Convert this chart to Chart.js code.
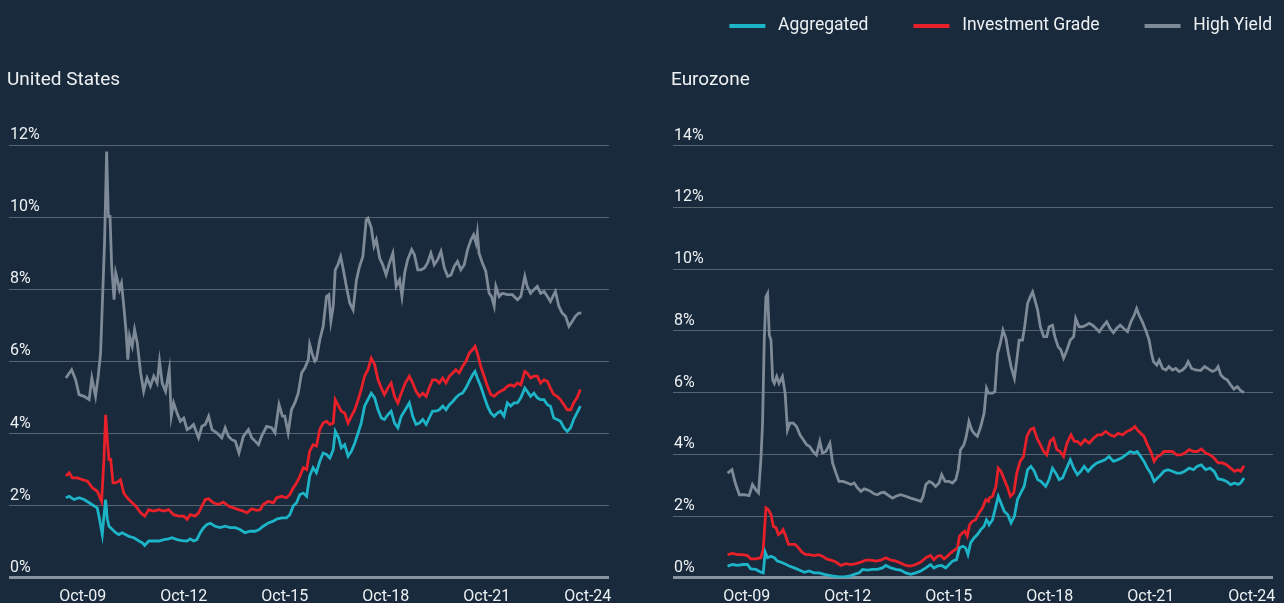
<!DOCTYPE html>
<html><head><meta charset="utf-8">
<script src="https://cdn.jsdelivr.net/npm/chart.js@4.4.1/dist/chart.umd.min.js"></script>
<style>
html,body{margin:0;padding:0;background:#182a3b;width:1284px;height:603px;overflow:hidden;}
canvas{position:absolute;top:0;}
#us{left:0;}
#ez{left:600px;}
</style></head><body>
<canvas id="us" width="640" height="603" style="width:640px;height:603px"></canvas>
<canvas id="ez" width="684" height="603" style="width:684px;height:603px"></canvas>
<script>
// ---------- tick labels ----------
const tickYears = [2009.75, 2012.75, 2015.75, 2018.75, 2021.75, 2024.75];
const tickLabels = ['Oct-09', 'Oct-12', 'Oct-15', 'Oct-18', 'Oct-21', 'Oct-24'];
const seriesNames = ['Aggregated', 'Investment Grade', 'High Yield'];

// ---------- United States ----------
const usAggDates = [2009.25,2009.35,2009.49,2009.64,2009.79,2009.94,2010.09,2010.18,2010.25,2010.33,2010.38,2010.43,2010.48,2010.53,2010.63,2010.73,2010.82,2010.92,2011.02,2011.12,2011.27,2011.42,2011.52,2011.59,2011.71,2011.86,2012.01,2012.16,2012.30,2012.40,2012.55,2012.70,2012.85,2012.94,2013.04,2013.14,2013.24,2013.34,2013.44,2013.54,2013.68,2013.83,2013.98,2014.13,2014.28,2014.42,2014.57,2014.72,2014.87,2014.99,2015.11,2015.26,2015.41,2015.51,2015.66,2015.80,2015.90,2016.00,2016.10,2016.20,2016.30,2016.40,2016.49,2016.59,
2016.69,2016.79,2016.89,2016.99,2017.09,2017.19,2017.25,2017.35,2017.43,2017.53,2017.63,2017.73,2017.83,2017.93,2018.02,2018.12,2018.22,2018.32,2018.42,2018.52,2018.62,2018.71,2018.81,2018.91,2019.01,2019.11,2019.21,2019.33,2019.45,2019.55,2019.65,2019.75,2019.85,2019.95,2020.04,2020.14,2020.24,2020.34,2020.44,2020.54,2020.64,2020.74,2020.83,2020.93,2021.03,2021.13,2021.23,2021.33,2021.40,2021.47,2021.57,2021.67,2021.77,2021.87,2021.97,2022.07,2022.16,2022.26,2022.36,2022.46,2022.56,2022.66,2022.76,2022.88,2022.95,2023.05,2023.15,2023.25,2023.35,2023.45,2023.55,2023.64,2023.74,2023.84,2023.94,2024.04,2024.14,2024.24,2024.33,2024.43,2024.53];
const usAggVals = [2.22,2.26,2.17,2.22,2.17,2.08,1.99,1.94,1.62,1.20,1.71,2.17,1.62,1.43,1.34,1.25,1.20,1.25,1.20,1.15,1.11,1.02,0.97,0.90,1.02,1.02,1.02,1.06,1.08,1.11,1.06,1.03,1.02,1.08,1.02,1.06,1.25,1.39,1.48,1.51,1.43,1.39,1.43,1.39,1.39,1.34,1.25,1.29,1.29,1.34,1.43,1.52,1.57,1.63,1.66,1.66,1.75,1.99,2.08,2.31,2.35,2.26,2.82,3.05,
2.91,3.23,3.46,3.42,3.32,3.55,4.06,3.88,3.60,3.69,3.37,3.51,3.74,4.02,4.29,4.76,4.94,5.12,4.99,4.66,4.43,4.39,4.52,4.62,4.29,4.16,4.48,4.66,4.85,4.48,4.25,4.29,4.39,4.25,4.43,4.62,4.62,4.66,4.76,4.66,4.80,4.89,4.99,5.08,5.12,5.26,5.45,5.63,5.72,5.54,5.31,5.03,4.76,4.57,4.48,4.57,4.62,4.48,4.85,4.76,4.85,4.85,4.99,5.26,5.17,5.03,5.12,4.99,4.94,4.94,4.80,4.76,4.43,4.39,4.34,4.16,4.06,4.16,4.39,4.57,4.76];

const usIgDates = [2009.25,2009.35,2009.44,2009.59,2009.74,2009.89,2010.04,2010.18,2010.31,2010.38,2010.43,2010.48,2010.53,2010.58,2010.65,2010.73,2010.82,2010.87,2010.97,2011.07,2011.17,2011.32,2011.47,2011.59,2011.71,2011.86,2012.01,2012.16,2012.30,2012.45,2012.60,2012.75,2012.85,2012.94,2013.09,2013.19,2013.29,2013.39,2013.49,2013.63,2013.78,2013.93,2014.08,2014.23,2014.37,2014.52,2014.62,2014.77,2014.92,2015.02,2015.11,2015.26,2015.41,2015.51,2015.66,2015.80,2015.90,2016.00,2016.10,2016.20,2016.30,2016.40,2016.49,2016.59,
2016.69,2016.79,2016.89,2016.99,2017.09,2017.19,2017.25,2017.35,2017.43,2017.53,2017.63,2017.73,2017.83,2017.93,2018.02,2018.12,2018.22,2018.32,2018.42,2018.52,2018.62,2018.71,2018.81,2018.91,2019.01,2019.11,2019.21,2019.33,2019.45,2019.55,2019.65,2019.75,2019.85,2019.95,2020.04,2020.14,2020.24,2020.34,2020.44,2020.54,2020.64,2020.74,2020.83,2020.93,2021.03,2021.13,2021.23,2021.33,2021.40,2021.47,2021.57,2021.67,2021.77,2021.87,2021.97,2022.07,2022.16,2022.26,2022.36,2022.46,2022.56,2022.66,2022.76,2022.88,2022.95,2023.05,2023.15,2023.25,2023.35,2023.45,2023.55,2023.64,2023.74,2023.84,2023.94,2024.04,2024.14,2024.24,2024.33,2024.43,2024.53];
const usIgVals = [2.82,2.91,2.77,2.77,2.72,2.68,2.49,2.40,2.12,3.28,4.52,3.83,3.28,3.28,2.63,2.63,2.68,2.72,2.35,2.22,2.12,1.99,1.80,1.71,1.89,1.85,1.89,1.85,1.89,1.75,1.71,1.71,1.62,1.75,1.71,1.80,1.99,2.17,2.19,2.08,2.03,2.10,1.99,1.94,1.89,1.85,1.80,1.91,1.87,1.89,2.03,2.12,2.08,2.22,2.26,2.22,2.31,2.49,2.63,2.82,3.05,3.00,3.51,3.69,
3.65,4.11,4.29,4.34,4.25,4.29,4.94,4.76,4.62,4.57,4.29,4.48,4.66,4.94,5.22,5.59,5.77,6.09,5.91,5.49,5.26,5.08,5.26,5.40,5.03,4.85,5.12,5.40,5.59,5.40,5.17,5.03,5.12,5.03,5.26,5.49,5.49,5.40,5.54,5.40,5.59,5.68,5.77,5.68,5.86,6.00,6.23,6.33,6.42,6.23,5.86,5.59,5.31,5.08,5.03,5.12,5.17,5.22,5.31,5.35,5.31,5.40,5.35,5.72,5.68,5.54,5.59,5.59,5.40,5.49,5.45,5.26,5.08,5.03,4.94,4.80,4.66,4.66,4.85,4.99,5.22];

const usHyDates = [2009.25,2009.42,2009.54,2009.64,2009.79,2009.94,2010.02,2010.13,2010.21,2010.28,2010.33,2010.40,2010.46,2010.51,2010.56,2010.61,2010.68,2010.73,2010.78,2010.84,2010.90,2010.97,2011.04,2011.09,2011.14,2011.22,2011.29,2011.37,2011.47,2011.56,2011.66,2011.76,2011.86,2011.96,2012.03,2012.11,2012.21,2012.32,2012.38,2012.45,2012.55,2012.65,2012.75,2012.85,2012.94,2013.04,2013.19,2013.29,2013.39,2013.49,2013.59,2013.73,2013.88,2013.98,2014.08,2014.18,2014.28,2014.39,2014.52,2014.67,2014.77,2014.87,2014.97,2015.06,2015.21,2015.36,2015.46,2015.58,2015.68,2015.75,2015.85,2015.95,2016.05,2016.15,2016.25,2016.35,2016.45,2016.49,2016.56,2016.64,
2016.69,2016.79,2016.89,2016.99,2017.06,2017.12,2017.19,2017.25,2017.33,2017.41,2017.48,2017.58,2017.68,2017.78,2017.88,2017.97,2018.07,2018.17,2018.22,2018.32,2018.40,2018.47,2018.57,2018.66,2018.76,2018.86,2018.96,2019.06,2019.16,2019.23,2019.31,2019.40,2019.52,2019.60,2019.70,2019.80,2019.90,2019.99,2020.09,2020.19,2020.29,2020.39,2020.49,2020.59,2020.69,2020.78,2020.88,2020.98,2021.08,2021.18,2021.28,2021.36,2021.43,2021.47,2021.52,2021.62,2021.72,2021.82,2021.89,2021.97,2022.02,2022.12,2022.21,2022.36,2022.51,2022.66,2022.76,2022.88,2022.95,2023.05,2023.15,2023.25,2023.35,2023.45,2023.55,2023.64,2023.74,2023.79,2023.89,2023.99,2024.09,2024.19,2024.29,2024.38,2024.48,2024.56];
const usHyVals = [5.54,5.77,5.49,5.08,5.03,4.94,5.54,5.03,5.59,6.23,7.53,9.37,11.82,10.02,10.02,8.63,7.71,8.45,8.26,7.99,8.17,7.53,6.79,6.05,6.70,6.42,6.88,6.51,5.68,5.17,5.54,5.31,5.59,5.40,6.00,5.40,5.17,5.77,4.48,4.85,4.57,4.34,4.43,4.11,4.16,4.25,3.88,4.20,4.25,4.48,4.11,4.02,3.88,4.16,3.92,3.83,3.79,3.46,3.92,4.11,3.88,3.79,3.69,3.92,4.20,4.16,4.02,4.80,4.48,4.48,4.02,4.66,4.85,5.12,5.68,5.82,6.05,6.47,6.23,6.00,
6.05,6.60,6.97,7.80,7.85,7.11,7.53,8.54,8.68,8.91,8.59,8.08,7.62,7.43,8.26,8.63,8.91,9.93,9.97,9.70,9.19,9.37,8.86,8.68,8.40,8.73,9.00,8.08,8.26,7.80,8.45,8.82,9.10,8.96,8.54,8.54,8.59,8.73,9.00,8.68,8.82,9.05,8.59,8.36,8.40,8.63,8.77,8.54,8.68,9.10,9.37,9.51,9.28,9.56,9.00,8.73,8.50,7.89,7.80,7.53,8.08,7.80,7.89,7.85,7.85,7.71,7.80,8.36,8.08,7.89,7.99,8.08,7.89,7.94,7.80,7.66,7.85,7.94,7.53,7.34,7.25,6.97,7.11,7.25,7.34,7.34];

// ---------- Eurozone ----------
const ezAggDates = [2009.18,2009.33,2009.48,2009.63,2009.77,2009.87,2010.02,2010.17,2010.24,2010.30,2010.37,2010.47,2010.57,2010.66,2010.76,2010.86,2011.01,2011.16,2011.31,2011.46,2011.60,2011.75,2011.90,2012.05,2012.20,2012.35,2012.49,2012.64,2012.79,2012.94,2013.09,2013.19,2013.33,2013.48,2013.63,2013.78,2013.88,2014.03,2014.18,2014.32,2014.47,2014.62,2014.77,2014.92,2015.07,2015.21,2015.31,2015.41,2015.54,2015.66,2015.76,2015.86,2015.98,2016.07,2016.17,2016.25,2016.32,2016.40,2016.50,2016.60,2016.70,2016.80,2016.87,2016.93,
2016.95,2017.05,2017.15,2017.22,2017.30,2017.40,2017.50,2017.60,2017.70,2017.79,2017.89,2017.99,2018.09,2018.19,2018.29,2018.39,2018.49,2018.63,2018.73,2018.83,2018.93,2019.03,2019.13,2019.23,2019.36,2019.46,2019.57,2019.67,2019.77,2019.89,2020.02,2020.15,2020.27,2020.39,2020.51,2020.64,2020.76,2020.88,2021.01,2021.14,2021.26,2021.35,2021.45,2021.55,2021.65,2021.75,2021.85,2021.95,2022.05,2022.14,2022.26,2022.39,2022.52,2022.64,2022.76,2022.89,2023.02,2023.13,2023.25,2023.38,2023.51,2023.63,2023.75,2023.88,2024.00,2024.12,2024.24,2024.34,2024.42,2024.52];
const ezAggVals = [0.38,0.43,0.40,0.43,0.43,0.29,0.27,0.18,0.16,0.83,0.65,0.70,0.65,0.54,0.51,0.46,0.38,0.32,0.25,0.18,0.22,0.16,0.16,0.11,0.08,0.05,0.03,0.03,0.05,0.11,0.16,0.27,0.25,0.27,0.27,0.32,0.40,0.32,0.27,0.25,0.16,0.11,0.16,0.22,0.32,0.43,0.32,0.38,0.40,0.32,0.43,0.54,0.59,0.97,1.02,0.97,0.75,1.13,1.29,1.40,1.56,1.67,1.88,1.78,
1.72,1.88,2.32,2.64,2.42,2.15,2.05,1.78,1.99,2.53,2.75,2.96,3.50,3.61,3.45,3.18,3.12,2.96,3.18,3.55,3.39,3.18,3.23,3.50,3.82,3.55,3.34,3.45,3.61,3.45,3.61,3.72,3.77,3.82,3.93,3.77,3.82,3.88,3.98,4.09,4.04,4.09,3.93,3.77,3.55,3.39,3.12,3.23,3.34,3.45,3.50,3.45,3.39,3.39,3.45,3.55,3.50,3.61,3.66,3.50,3.55,3.45,3.20,3.18,3.12,3.02,3.07,3.02,3.07,3.23];

const ezIgDates = [2009.18,2009.33,2009.48,2009.63,2009.77,2009.87,2010.02,2010.17,2010.24,2010.32,2010.39,2010.47,2010.54,2010.62,2010.69,2010.76,2010.83,2010.91,2010.99,2011.09,2011.19,2011.29,2011.39,2011.51,2011.62,2011.75,2011.88,2012.00,2012.12,2012.25,2012.40,2012.54,2012.69,2012.84,2012.99,2013.14,2013.29,2013.43,2013.58,2013.73,2013.88,2014.03,2014.18,2014.32,2014.47,2014.62,2014.77,2014.92,2015.07,2015.21,2015.31,2015.41,2015.51,2015.61,2015.71,2015.81,2015.91,2016.01,2016.07,2016.15,2016.23,2016.30,2016.37,2016.45,2016.55,2016.65,2016.75,2016.85,2016.93,
2016.95,2017.05,2017.15,2017.22,2017.30,2017.40,2017.50,2017.58,2017.68,2017.77,2017.87,2017.97,2018.07,2018.17,2018.27,2018.37,2018.47,2018.57,2018.66,2018.76,2018.86,2018.96,2019.06,2019.16,2019.26,2019.38,2019.48,2019.57,2019.67,2019.79,2019.92,2020.05,2020.17,2020.29,2020.41,2020.54,2020.66,2020.78,2020.91,2021.04,2021.16,2021.28,2021.35,2021.45,2021.55,2021.65,2021.75,2021.85,2021.95,2022.05,2022.14,2022.26,2022.39,2022.52,2022.64,2022.76,2022.89,2023.02,2023.13,2023.25,2023.38,2023.51,2023.63,2023.75,2023.88,2024.00,2024.12,2024.24,2024.34,2024.42,2024.52];
const ezIgVals = [0.75,0.79,0.75,0.75,0.72,0.61,0.61,0.65,0.92,2.26,2.21,2.05,1.67,1.62,1.40,1.45,1.56,1.35,1.08,1.08,1.08,0.97,0.83,0.75,0.75,0.72,0.75,0.70,0.61,0.57,0.51,0.40,0.46,0.43,0.46,0.51,0.57,0.57,0.54,0.57,0.65,0.57,0.54,0.48,0.40,0.38,0.43,0.51,0.65,0.72,0.59,0.70,0.72,0.61,0.70,0.81,0.89,0.97,1.35,1.45,1.51,1.35,1.72,1.83,1.88,2.10,2.26,2.53,2.48,
2.58,2.64,2.96,3.55,3.45,3.18,2.91,2.64,2.75,3.39,3.77,3.93,4.58,4.79,4.85,4.52,4.31,4.09,3.98,4.42,4.52,4.15,4.09,3.93,4.36,4.63,4.42,4.42,4.31,4.47,4.36,4.52,4.63,4.63,4.74,4.63,4.58,4.68,4.63,4.74,4.79,4.90,4.79,4.68,4.58,4.31,4.09,3.77,3.93,3.98,4.09,4.09,4.09,3.98,3.98,4.04,4.15,4.09,4.09,4.17,4.04,3.98,3.88,3.72,3.72,3.66,3.55,3.45,3.50,3.45,3.63];

const ezHyDates = [2009.18,2009.31,2009.41,2009.53,2009.68,2009.82,2009.92,2010.02,2010.10,2010.17,2010.22,2010.27,2010.32,2010.37,2010.42,2010.47,2010.52,2010.57,2010.64,2010.71,2010.81,2010.89,2010.96,2011.03,2011.13,2011.23,2011.33,2011.43,2011.53,2011.62,2011.72,2011.82,2011.92,2012.00,2012.10,2012.22,2012.30,2012.40,2012.49,2012.61,2012.74,2012.84,2012.94,2013.04,2013.14,2013.24,2013.33,2013.43,2013.53,2013.63,2013.73,2013.83,2013.93,2014.08,2014.18,2014.32,2014.47,2014.62,2014.77,2014.92,2014.99,2015.07,2015.17,2015.26,2015.36,2015.46,2015.54,2015.64,2015.76,2015.86,2015.96,2016.03,2016.10,2016.20,2016.27,2016.35,2016.43,2016.50,2016.60,2016.70,2016.80,2016.87,2016.93,
2016.95,2017.05,2017.12,2017.20,2017.28,2017.36,2017.45,2017.52,2017.60,2017.70,2017.77,2017.84,2017.94,2018.01,2018.09,2018.17,2018.24,2018.31,2018.39,2018.47,2018.57,2018.66,2018.73,2018.83,2018.90,2019.00,2019.08,2019.16,2019.26,2019.36,2019.46,2019.52,2019.62,2019.72,2019.82,2019.92,2020.02,2020.12,2020.22,2020.32,2020.44,2020.54,2020.64,2020.74,2020.84,2020.94,2021.06,2021.16,2021.26,2021.33,2021.40,2021.50,2021.60,2021.70,2021.77,2021.83,2021.93,2022.00,2022.10,2022.20,2022.29,2022.39,2022.49,2022.59,2022.69,2022.79,2022.86,2022.96,2023.08,2023.23,2023.35,2023.48,2023.58,2023.68,2023.75,2023.83,2023.93,2024.02,2024.12,2024.22,2024.32,2024.42,2024.52];
const ezHyVals = [3.39,3.50,3.07,2.69,2.69,2.66,3.02,2.85,2.75,3.82,5.01,7.70,9.10,9.21,7.86,7.70,6.41,6.30,6.52,6.30,6.52,5.98,4.79,5.01,5.01,4.90,4.63,4.47,4.31,4.25,4.09,3.98,4.42,4.04,4.09,4.36,3.72,3.39,3.12,3.12,3.07,3.02,3.07,2.91,2.80,2.88,2.85,2.80,2.72,2.69,2.75,2.77,2.69,2.58,2.64,2.69,2.64,2.58,2.53,2.48,2.64,3.02,3.12,3.07,2.96,3.07,3.34,3.12,3.12,3.07,3.18,3.50,4.15,4.31,4.58,5.06,4.79,4.68,4.58,4.90,5.33,6.14,5.98,
5.98,5.98,6.03,7.27,7.59,8.02,7.75,7.27,6.84,6.46,7.05,7.70,7.70,8.18,8.88,9.10,9.26,8.99,8.67,8.13,7.81,7.81,8.13,8.18,7.81,7.48,7.38,7.11,7.38,7.70,7.81,8.40,8.13,8.13,8.18,8.24,8.18,8.08,7.97,8.13,8.29,8.08,7.94,8.08,8.18,8.08,7.97,8.29,8.51,8.72,8.51,8.29,8.02,7.70,7.27,7.00,6.89,7.05,6.78,6.73,6.84,6.73,6.78,6.68,6.73,6.84,7.00,6.78,6.73,6.71,6.84,6.75,6.68,6.73,6.84,6.57,6.46,6.41,6.25,6.11,6.19,6.06,6.00];

// ---------- styling ----------
const FONT = 'Roboto';
const TEXT = '#eef1f4';
const GRID = '#566472';
const BASE = '#8a949f';
const COLORS = ['#1db4c8', '#e8202a', '#7e8a97'];
const X_MIN = 2007.56, X_MAX = 2025.38;

function legendMark(color) {
  const c = document.createElement('canvas');
  c.width = 84; c.height = 4;
  const g = c.getContext('2d');
  g.fillStyle = color;
  g.fillRect(44, 0, 36, 4);
  return c;
}
const legendMarks = COLORS.map(legendMark);

function build(id, title, yMax, pad, titlePadTop, series, showLegend) {
  return new Chart(document.getElementById(id), {
    type: 'line',
    data: {
      datasets: series.map((s, i) => ({
        label: seriesNames[i],
        data: s[0].map((d, k) => ({x: d, y: s[1][k]})),
        borderColor: COLORS[i],
        backgroundColor: COLORS[i],
        borderWidth: 2.8,
        pointRadius: 0,
        tension: 0
      }))
    },
    options: {
      responsive: false,
      animation: false,
      events: [],
      layout: {padding: pad},
      plugins: {
        tooltip: {enabled: false},
        legend: {
          display: showLegend,
          position: 'top',
          align: 'end',
          labels: {
            color: TEXT,
            font: {family: FONT, size: 17.5},
            padding: 1,
            usePointStyle: true,
            pointStyleWidth: 84,
            generateLabels(chart) {
              const items = Chart.defaults.plugins.legend.labels.generateLabels(chart);
              items.forEach((it, i) => { it.pointStyle = legendMarks[i]; it.lineWidth = 0; });
              return items;
            }
          }
        },
        title: {
          display: true,
          text: title,
          align: 'start',
          color: TEXT,
          weight: 500,
          font: {family: FONT, size: 19, weight: 'normal'},
          padding: {top: titlePadTop, bottom: 53.6}
        }
      },
      scales: {
        x: {
          type: 'linear',
          min: X_MIN,
          max: X_MAX,
          afterBuildTicks: (scale) => { scale.ticks = tickYears.map(v => ({value: v})); },
          ticks: {
            callback: (v, i) => tickLabels[i],
            color: TEXT,
            font: {family: FONT, size: 16},
            padding: 1.5,
            maxRotation: 0,
            autoSkip: false
          },
          grid: {display: false},
          border: {display: false}
        },
        y: {
          min: 0,
          max: yMax,
          ticks: {
            stepSize: 2,
            callback: v => v + '%',
            mirror: true,
            padding: 1,
            labelOffset: -10,
            color: TEXT,
            font: {family: FONT, size: 16}
          },
          grid: {
            drawTicks: false,
            color: c => (c.tick && c.tick.value === 0) ? BASE : GRID,
            lineWidth: c => (c.tick && c.tick.value === 0) ? 3 : 1
          },
          border: {display: false}
        }
      }
    }
  });
}

build('us', 'United States', 12, {left: 7, right: 31, top: 13, bottom: -5}, 55.6,
  [[usAggDates, usAggVals], [usIgDates, usIgVals], [usHyDates, usHyVals]], false);
build('ez', 'Eurozone', 14, {left: 71, right: 11, top: 16, bottom: -5}, 24.6,
  [[ezAggDates, ezAggVals], [ezIgDates, ezIgVals], [ezHyDates, ezHyVals]], true);
</script>
</body></html>
